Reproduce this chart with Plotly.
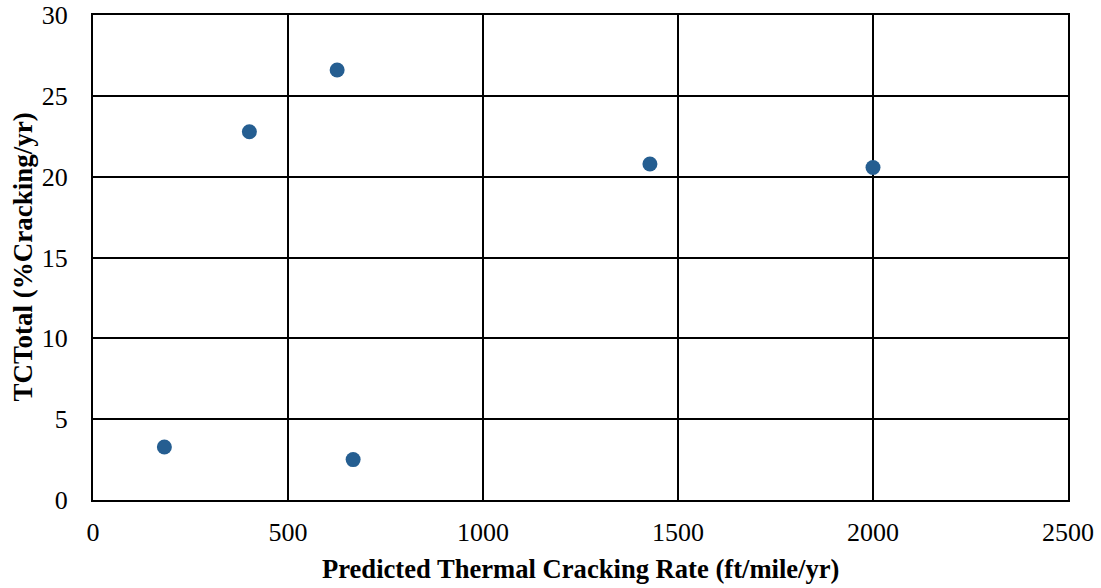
import plotly.graph_objects as go

rate = [183, 401, 626, 667, 1428, 2000]
tc_total = [3.28, 22.78, 26.6, 2.5, 20.78, 20.57]

x_title = "Predicted Thermal Cracking Rate (ft/mile/yr)"
y_title = "TCTotal (%Cracking/yr)"

fig = go.Figure()
fig.add_trace(go.Scatter(
    x=rate, y=tc_total, mode="markers",
    marker=dict(size=15, color="#255E91"),
    showlegend=False,
))

font_family = "Liberation Serif, Times New Roman, serif"
fig.update_layout(
    width=1101, height=588,
    margin=dict(l=93, r=33, t=15, b=88),
    paper_bgcolor="white", plot_bgcolor="white",
    font=dict(family=font_family, size=26, color="black"),
)
fig.update_xaxes(
    range=[0, 2500], dtick=500, tick0=0, automargin=False,
    showgrid=True, gridcolor="black", gridwidth=1.5,
    showline=True, linecolor="black", linewidth=2, mirror=True,
    zeroline=False, ticks="", ticklabelstandoff=8,
    tickfont=dict(size=26),
)
fig.update_yaxes(
    range=[0, 30], dtick=5, tick0=0, automargin=False,
    showgrid=True, gridcolor="black", gridwidth=1.5,
    showline=True, linecolor="black", linewidth=2, mirror=True,
    zeroline=False, ticks="", ticklabelstandoff=18,
    tickfont=dict(size=26),
)
fig.add_annotation(
    text="<b>" + x_title + "</b>", xref="paper", yref="paper",
    x=0.5, y=0, yshift=-69, showarrow=False,
    font=dict(size=26.6), xanchor="center", yanchor="middle",
)
fig.add_annotation(
    text="<b>" + y_title + "</b>", xref="paper", yref="paper",
    x=0, y=0.5, xshift=-71, showarrow=False, textangle=-90,
    font=dict(size=27), xanchor="center", yanchor="middle",
)
fig.write_html("out.html", config={"displayModeBar": False},
               post_script="document.body.style.margin='0';")
